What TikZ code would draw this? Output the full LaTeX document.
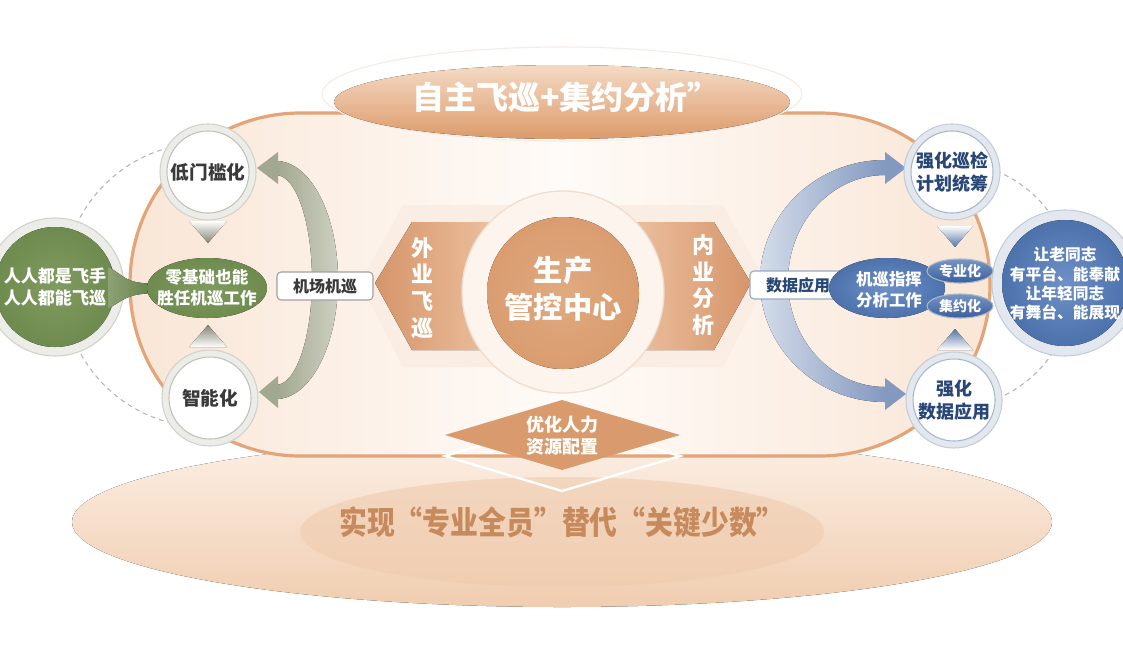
\documentclass[tikz,border=0pt]{standalone}
\usepackage{fontspec}
\usepackage{graphicx}
\setmainfont{Noto Sans CJK SC}
\usetikzlibrary{arrows.meta}
\makeatletter
\pgfdeclareradialshading[tikz@radial@inner,tikz@radial@outer]{softradial}{\pgfpointorigin}{color(0bp)=(tikz@radial@inner); color(50bp)=(tikz@radial@outer)}
\makeatother
\newcommand{\fz}[2]{\fontsize{#1}{#2}\selectfont\bfseries}
\definecolor{bgT}{HTML}{FCF0E6}
\definecolor{bgB}{HTML}{F0CDB0}
\definecolor{innE}{HTML}{EFCBAE}
\definecolor{stadL}{HTML}{E3A478}
\definecolor{stadE}{HTML}{F9E6D6}
\definecolor{stadM}{HTML}{FFFBF8}
\definecolor{haloD}{HTML}{F5EBE3}
\definecolor{tT}{HTML}{F5DAC4}
\definecolor{tB}{HTML}{DC9B6B}
\definecolor{diaF}{HTML}{D99B6D}
\definecolor{pglow}{HTML}{FAEDE3}
\definecolor{pL}{HTML}{D6956A}
\definecolor{pR}{HTML}{F0C9AA}
\definecolor{cRingF}{HTML}{FDF4EE}
\definecolor{cRingD}{HTML}{F0DED0}
\definecolor{cIn}{HTML}{E0AA80}
\definecolor{cOut}{HTML}{D28F5F}
\definecolor{grnIn}{HTML}{809B60}
\definecolor{grnOut}{HTML}{5C7A3F}
\definecolor{gringf}{HTML}{ECEDE8}
\definecolor{gringd}{HTML}{D0D2CA}
\definecolor{gin}{HTML}{BFC2B8}
\definecolor{fnL}{HTML}{8EA175}
\definecolor{fnR}{HTML}{65814A}
\definecolor{sageD}{HTML}{A2A78F}
\definecolor{sageL}{HTML}{CDD0C1}
\definecolor{dark}{HTML}{3A3A3A}
\definecolor{boxG}{HTML}{A0A0A0}
\definecolor{boxB}{HTML}{9AA8BE}
\definecolor{navy}{HTML}{284777}
\definecolor{bringf}{HTML}{E3E8EF}
\definecolor{bringd}{HTML}{C3CCDA}
\definecolor{bin}{HTML}{A9B7CC}
\definecolor{blueIn}{HTML}{6D90C6}
\definecolor{blueOut}{HTML}{2C5291}
\definecolor{bluL}{HTML}{D3DCE9}
\definecolor{bluD}{HTML}{8499C0}
\definecolor{smT}{HTML}{7896C6}
\definecolor{smB}{HTML}{3A5E9B}
\definecolor{bronze}{HTML}{C68A5C}
\definecolor{dashg}{HTML}{B5B5B5}
\begin{document}
\begin{tikzpicture}[x=0.75pt,y=-0.75pt,
  wtxt/.style={text=white,align=center,inner sep=0pt},
  dtxt/.style={text=dark,align=center,inner sep=0pt},
  ntxt/.style={text=navy,align=center,inner sep=0pt},
  dashc/.style={draw=dashg,line width=0.8pt,dash pattern=on 3.5pt off 3pt},
  gring/.style={fill=gringf,draw=gringd,line width=0.8pt},
  bring/.style={fill=bringf,draw=bringd,line width=0.8pt},
  labbox/.style={fill=white,rounded corners=3pt,line width=0.8pt,minimum width=72pt,minimum height=21pt,inner sep=0pt,font=\fz{12pt}{14pt}}
]
\useasboundingbox (0,0) rectangle (1123,647);
\clip (0,0) rectangle (1123,647);
\fill[white] (0,0) rectangle (1123,647);

% bottom ellipse
\fill[top color=bgT,bottom color=bgB] (562,522) ellipse [x radius=490,y radius=85];
\fill[innE,opacity=0.6] (562,532) ellipse [x radius=262,y radius=55];
\node[text=bronze,inner sep=0pt,font=\fz{24pt}{28pt}] (btm) at (562,522) {\scalebox{0.87}[1]{实现“专业全员”替代“关键少数”}};

% stadium
\draw[line width=2.4pt,draw=stadL,left color=stadE,right color=stadE,middle color=stadM,rounded corners=128pt] (130,113) rectangle (990,456);

% top ellipse
\fill[white] (562,94) ellipse [x radius=240,y radius=47];
\draw[haloD,line width=0.8pt] (562,94) ellipse [x radius=240,y radius=47];
\fill[top color=tT,bottom color=tB] (562,102) ellipse [x radius=228,y radius=37];
\node[wtxt,font=\fz{24pt}{28pt}] (ttl) at (566,97) {自主飞巡+集约分析”};

% diamond
\draw[white,line width=1.8pt] (445,456) -- (562,421) -- (680,456) -- (562,491) -- cycle;
\fill[diaF] (445,435) -- (562,400) -- (680,435) -- (562,470) -- cycle;
\node[wtxt,font=\fz{13.5pt}{16.5pt}] (dia) at (562,436) {优化人力\\资源配置};

% pentagons
\fill[pglow] (360,283) -- (403,205) -- (520,205) -- (520,367) -- (403,367) -- cycle;
\fill[pglow] (766,283) -- (723,205) -- (606,205) -- (606,367) -- (723,367) -- cycle;
\fill[left color=pL,right color=pR] (375,283) -- (412,222) -- (520,222) -- (520,350) -- (412,350) -- cycle;
\fill[left color=pR,right color=pL] (751,283) -- (714,222) -- (606,222) -- (606,350) -- (714,350) -- cycle;
\node[wtxt,font=\fz{16.5pt}{20pt}] (wai) at (422,288) {外\\业\\飞\\巡};
\node[wtxt,font=\fz{16.5pt}{20pt}] (nei) at (703,285) {内\\业\\分\\析};

% centre circle
\filldraw[fill=cRingF,draw=cRingD,line width=1pt] (563,292) circle[radius=101];
\fill[inner color=cIn,outer color=cOut,shading=softradial] (563,293) circle[radius=76];
\node[wtxt,font=\fz{22pt}{28pt}] (ctr) at (563,289) {生产\\管控中心};

% ---------- left ----------
\draw[dashc] (205,285) ++(100:142) arc[start angle=100,end angle=260,radius=142];
\filldraw[gring] (55,287) circle[radius=69];
\fill[inner color=grnIn,outer color=grnOut,shading=softradial] (55,287) circle[radius=60];
\node[wtxt,font=\fz{12.8pt}{17pt}] (rr) at (55,287) {人人都是飞手\\人人都能飞巡};
\fill[left color=fnL,right color=fnR] (108,266) .. controls (130,282) .. (152,284) -- (152,293) .. controls (130,295) .. (108,309) -- cycle;
\fill[inner color=grnIn,outer color=grnOut,shading=softradial] (207,288) ellipse [x radius=60,y radius=30];
\node[wtxt,font=\fz{12.4pt}{16pt}] (ljc) at (207,288) {零基础也能\\胜任机巡工作};
\fill[top color=white,bottom color=sageD!80!black] (189,221) -- (227,221) -- (208,243) -- cycle;
\fill[bottom color=white,top color=sageD!80!black] (189,347) -- (227,347) -- (208,325) -- cycle;
\fill[left color=sageD,right color=sageL] (276,161) arc[start angle=-90,end angle=90,x radius=62,y radius=119] -- (276,385) arc[start angle=90,end angle=-90,x radius=36,y radius=105] -- cycle;
\fill[sageD] (257,168) -- (278,152) -- (278,184) -- cycle;
\fill[sageD] (259,392) -- (278,376) -- (278,408) -- cycle;
\node[labbox,draw=boxG,text=dark] (jc) at (325,286) {机场机巡};
\filldraw[gring] (208,172) circle[radius=48];
\filldraw[fill=white,draw=gin,line width=0.8pt] (208,172) circle[radius=41];
\node[dtxt,font=\fz{14pt}{16pt}] (dmk) at (208,172) {低门槛化};
\filldraw[gring] (210,398) circle[radius=48];
\filldraw[fill=white,draw=gin,line width=0.8pt] (210,398) circle[radius=41];
\node[dtxt,font=\fz{14pt}{16pt}] (zn) at (210,398) {智能化};

% ---------- right ----------
\draw[dashc] (950,285) ++(-80:123) arc[start angle=-80,end angle=80,radius=123];
\filldraw[bring] (1065,283) circle[radius=73];
\fill[inner color=blueIn,outer color=blueOut,shading=softradial] (1065,283) circle[radius=63];
\node[wtxt,font=\fz{11.8pt}{14.5pt}] (lao) at (1065,284) {让老同志\\有平台、能奉献\\让年轻同志\\有舞台、能展现};
\fill[top color=white,bottom color=blueOut!80] (937,226) -- (973,226) -- (955,247) -- cycle;
\fill[bottom color=white,top color=blueOut!80] (937,350) -- (973,350) -- (955,329) -- cycle;
\fill[left color=bluL,right color=bluD] (885,160) arc[start angle=-90,end angle=-270,x radius=125,y radius=121] -- (885,387) arc[start angle=-270,end angle=-90,x radius=97,y radius=106] -- cycle;
\fill[bluD] (906,168) -- (885,152) -- (885,184) -- cycle;
\fill[bluD] (906,394) -- (885,378) -- (885,410) -- cycle;
\node[labbox,draw=boxB,text=navy] (sj) at (798,285) {数据应用};
\fill[inner color=blueIn,outer color=blueOut,shading=softradial] (887,288) ellipse [x radius=58,y radius=30];
\node[wtxt,font=\fz{12.3pt}{15.5pt}] (jx) at (889,290) {机巡指挥\\分析工作};
\filldraw[top color=smT,bottom color=smB,draw=bin,line width=0.8pt] (960,271) ellipse [x radius=33,y radius=12];
\filldraw[top color=smT,bottom color=smB,draw=bin,line width=0.8pt] (960,306) ellipse [x radius=33,y radius=12];
\node[wtxt,font=\fz{10.5pt}{12pt}] (zy) at (960,271) {专业化};
\node[wtxt,font=\fz{10.5pt}{12pt}] (jy) at (960,306) {集约化};
\filldraw[bring] (952,172) circle[radius=48];
\filldraw[fill=white,draw=bin,line width=0.8pt] (952,172) circle[radius=41];
\node[ntxt,font=\fz{13.5pt}{17pt}] (qh1) at (952,172) {强化巡检\\计划统筹};
\filldraw[bring] (954,400) circle[radius=48];
\filldraw[fill=white,draw=bin,line width=0.8pt] (954,400) circle[radius=41];
\node[ntxt,font=\fz{13.5pt}{17pt}] (qh2) at (954,400) {强化\\数据应用};
\end{tikzpicture}
\end{document}
